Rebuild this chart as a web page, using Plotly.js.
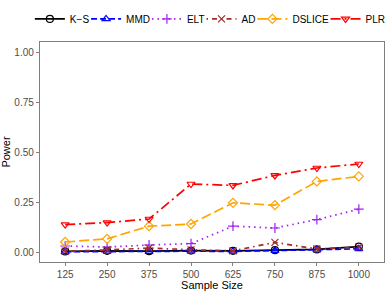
<!DOCTYPE html>
<html>
<head>
<meta charset="utf-8">
<script src="https://cdn.plot.ly/plotly-3.0.1.min.js"></script>
<style>html,body{margin:0;padding:0;background:#fff;}#chart{width:388px;height:291px;}</style>
</head>
<body>
<div id="chart"></div>
<script>
const sampleSizes = ['125','250','375','500','625','750','875','1000'];
const ksPower     = [0.003,0.006,0.004,0.007,0.006,0.009,0.013,0.027];
const mmdPower    = [0.001,0.003,0.002,0.004,0.003,0.007,0.010,0.016];
const eltPower    = [0.030,0.025,0.035,0.042,0.129,0.120,0.162,0.214];
const adPower     = [0.004,0.010,0.020,0.011,0.006,0.048,0.015,0.024];
const dslicePower = [0.050,0.066,0.129,0.140,0.246,0.234,0.353,0.378];
const plrPower    = [0.137,0.147,0.165,0.340,0.333,0.383,0.420,0.440];
const seriesNames = ['K\u2212S','MMD','ELT','AD','DSLICE','PLR'];
const yTicks = [0, 0.25, 0.5, 0.75, 1.0];
const yTickText = ['0.00','0.25','0.50','0.75','1.00'];

const FONT = 'Liberation Sans, Arial, sans-serif';
const LEG_SIZE = 10;
const ctx = document.createElement('canvas').getContext('2d');
ctx.font = LEG_SIZE + 'px "Liberation Sans", Arial, sans-serif';
const textW = seriesNames.map(n => ctx.measureText(n).width);
// let each label run into the empty lead-in of the next legend key
const legW = textW.map((w, i) => i < textW.length - 1 ? Math.max(4, w - 8) : w);
const legendW = 6 * 40 + legW.reduce((a, b) => a + b, 0) + 31;
const visW = legendW - 10;
const plotL = 40, plotW = 344;
const legLeft = Math.max(0, Math.min(207 - visW / 2, 381 - visW));

function tr(i, y, color, dash, symbol) {
  return {
    x: sampleSizes, y: y, name: seriesNames[i], type: 'scatter', mode: 'lines+markers',
    line: {color: color, width: 1.7, dash: dash},
    marker: {symbol: symbol, size: 7, color: color, line: {color: color, width: 1.2}},
    legendwidth: legW[i]
  };
}
const data = [
  tr(0, ksPower, '#000000', 'solid', 'circle-open'),
  tr(1, mmdPower, '#0000FF', '6px,3px', 'triangle-up-open'),
  tr(2, eltPower, '#A020F0', '1.5px,4px', 'cross-thin-open'),
  tr(3, adPower, '#A52A2A', '1.5px,4px,5px,4px', 'x-thin-open'),
  tr(4, dslicePower, '#FFA500', '10px,4px', 'diamond-open'),
  tr(5, plrPower, '#FF0000', '10px,4px,2px,4px', 'triangle-down-open')
];
const layout = {
  width: 388, height: 291,
  margin: {l: plotL, r: 4, t: 42, b: 29, autoexpand: false},
  paper_bgcolor: '#ffffff', plot_bgcolor: '#ffffff',
  font: {family: FONT, size: 10, color: '#4d4d4d'},
  showlegend: true,
  legend: {orientation: 'h', x: (legLeft - plotL) / plotW, xanchor: 'left', y: 1.105, yanchor: 'middle',
           font: {family: FONT, size: LEG_SIZE, color: '#000000'}, bgcolor: 'rgba(0,0,0,0)', itemwidth: 30},
  xaxis: {
    type: 'category', range: [-0.6, 7.6],
    showgrid: false, zeroline: false,
    showline: true, mirror: true, linecolor: '#7f7f7f', linewidth: 1.2,
    ticks: 'outside', ticklen: 3, tickcolor: '#7f7f7f',
    tickfont: {size: 10, color: '#4d4d4d'},
    title: {text: 'Sample Size', font: {size: 11, color: '#000000'}, standoff: 0}
  },
  yaxis: {
    range: [-0.05, 1.05], tickvals: yTicks, ticktext: yTickText,
    showgrid: false, zeroline: false,
    showline: true, mirror: true, linecolor: '#7f7f7f', linewidth: 1.2,
    ticks: 'outside', ticklen: 3, tickcolor: '#7f7f7f',
    tickfont: {size: 10, color: '#4d4d4d'},
    title: {text: 'Power', font: {size: 11, color: '#000000'}, standoff: 2}
  }
};
Plotly.newPlot('chart', data, layout, {displayModeBar: false, staticPlot: true});
</script>
</body>
</html>
